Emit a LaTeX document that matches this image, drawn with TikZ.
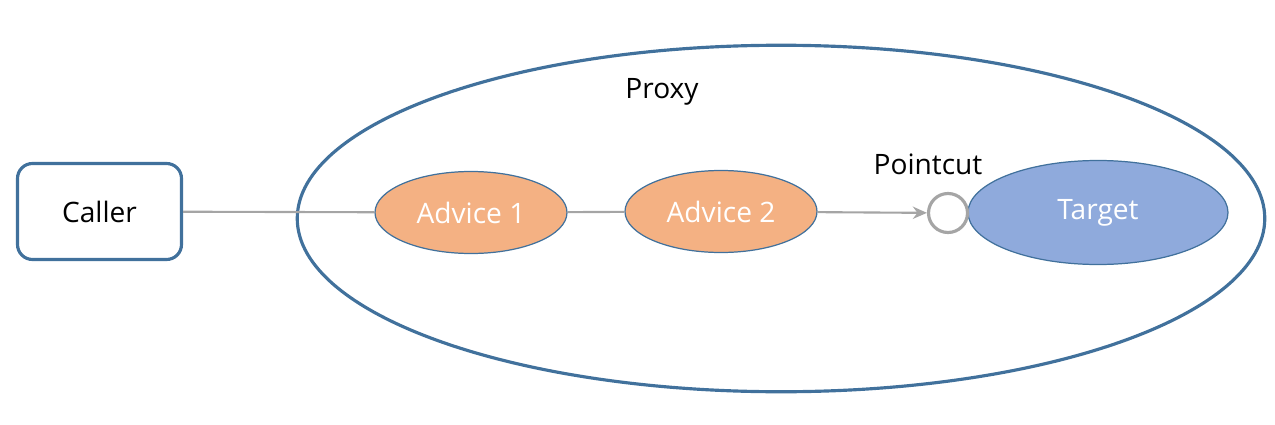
\documentclass[tikz,border=0pt]{standalone}
\usepackage{fontspec}
\setmainfont{Open Sans}
\usetikzlibrary{shapes.geometric,arrows.meta}

\definecolor{edgeblue}{HTML}{41719C}
\definecolor{adviceorange}{HTML}{F4B183}
\definecolor{targetblue}{HTML}{8FAADC}
\definecolor{linegrey}{HTML}{A5A5A5}

\tikzset{
    advice/.style={ellipse, draw=edgeblue, line width=0.7pt, fill=adviceorange, text=white,
        minimum width=3.84cm, minimum height=1.64cm, inner sep=0pt},
    flow/.style={draw=linegrey, line width=1.2pt}
}

\begin{document}
\begin{tikzpicture}[font=\fontsize{16}{19}\selectfont]
        \useasboundingbox (0,0) rectangle (25.5,8.48);
        \node[ellipse, draw=edgeblue, line width=1.8pt, minimum width=19.35cm, minimum height=6.93cm,
            inner sep=0pt] (proxy) at (15.62,4.11) {};
        \node [anchor=center] (proxylabel) at (13.24,6.64) {Proxy};
        \node[draw=edgeblue, line width=1.8pt, rounded corners=0.3cm, minimum width=3.28cm,
            minimum height=1.92cm] (caller) at (1.99,4.25) {Caller};
        \node[advice] (adv1) at (9.42,4.23) {Advice 1};
        \node[advice] (adv2) at (14.42,4.25) {Advice 2};
        \node[ellipse, draw=edgeblue, line width=0.7pt, fill=targetblue, text=white,
            minimum width=5.2cm, minimum height=2.08cm, inner sep=0pt] (target) at (21.96,4.23) {Target};
        \node[circle, draw=linegrey, line width=1.8pt, minimum size=0.78cm, inner sep=0pt] (pc) at (18.96,4.22) {};
        \node [anchor=center] (pclabel) at (18.56,5.2) {Pointcut};
        \draw[flow] (caller) -- (adv1);
        \draw[flow] (adv1) -- (adv2);
        \draw[flow, -{Stealth[length=8pt,width=7pt]}] (adv2) -- (pc);
    \end{tikzpicture}
\end{document}
